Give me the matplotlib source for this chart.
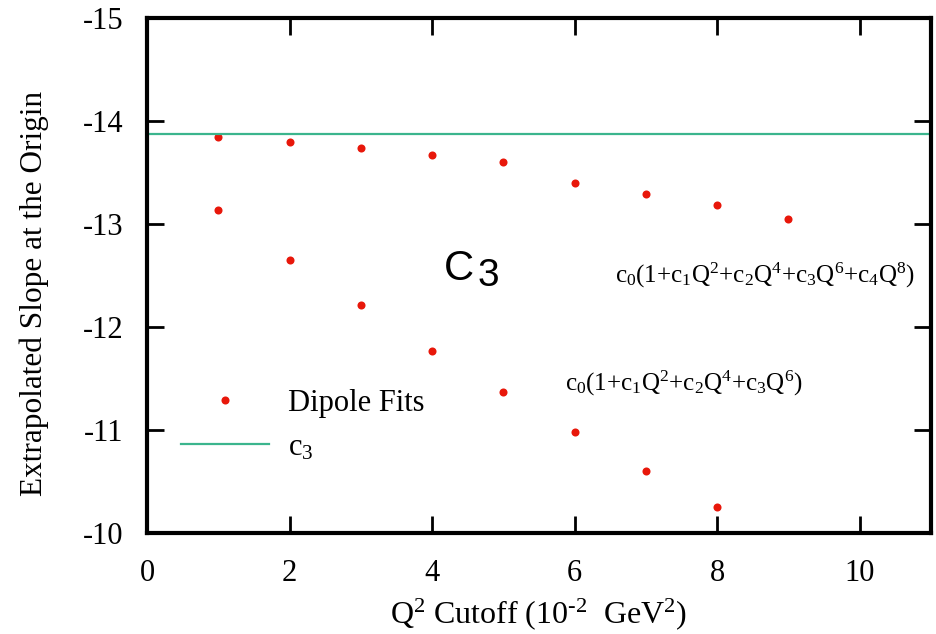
import matplotlib
matplotlib.use("Agg")
import matplotlib.pyplot as plt

plt.rcParams['font.family'] = ['Liberation Serif', 'DejaVu Serif']
plt.rcParams['mathtext.default'] = 'regular'
plt.rcParams['axes.unicode_minus'] = False

# data
q2_cut_upper = [1, 2, 3, 4, 5, 6, 7, 8, 9]
slope_upper = [-13.84, -13.80, -13.74, -13.67, -13.60, -13.40, -13.29, -13.18, -13.05]
q2_cut_lower = [1, 2, 3, 4, 5, 6, 7, 8]
slope_lower = [-13.14, -12.65, -12.21, -11.77, -11.37, -10.98, -10.60, -10.25]
c3_value = -13.87

x_ticks = [0, 2, 4, 6, 8, 10]
y_ticks = [-10, -11, -12, -13, -14, -15]

red = '#e8170a'
teal = '#3bb58d'

fig = plt.figure(figsize=(9.37, 6.34), dpi=100)
ax = fig.add_axes([147/937, 1-533/634, (931-147)/937, (533-18)/634])

ax.plot(q2_cut_upper, slope_upper, 'o', color=red, markersize=5.8, markeredgewidth=0,
        label='Dipole Fits')
ax.plot(q2_cut_lower, slope_lower, 'o', color=red, markersize=5.8, markeredgewidth=0)
ax.axhline(c3_value, color=teal, lw=1.6, label='c$_3$')

ax.set_xlim(0, 11)
ax.set_ylim(-10, -15)
ax.set_xticks(x_ticks)
ax.set_yticks(y_ticks)
ax.set_yticklabels([str(v) for v in y_ticks])
ax.tick_params(direction='in', length=12, width=2, top=True, right=True,
               labelsize=22)
ax.tick_params(axis='x', pad=19)
ax.tick_params(axis='y', pad=17)
for s in ax.spines.values():
    s.set_linewidth(3)

ax.set_xlabel('Q$^2$ Cutoff (10$^{\u2010 2}$  GeV$^2$)', fontsize=23)
ax.set_ylabel('Extrapolated Slope at the Origin', fontsize=22.5)
ax.xaxis.set_label_coords(0.5, (533-623)/515, transform=ax.transAxes)
ax.xaxis.label.set_va('baseline')
ax.yaxis.set_label_coords((34-147)/784, (533-293)/515)
ax.yaxis.label.set_va('center')

# annotations
ax.text(4.17, -12.56, 'C', fontsize=30, family='Liberation Sans', ha='left', va='center')
ax.text(4.64, -12.5, '3', fontsize=28, family='Liberation Sans', ha='left', va='center')
ax.text(6.56, -12.5, 'c$_0$(1+c$_1$Q$^2$+c$_2$Q$^4$+c$_3$Q$^6$+c$_4$Q$^8$)',
        fontsize=18, ha='left', va='center')
ax.text(5.86, -11.45, 'c$_0$(1+c$_1$Q$^2$+c$_2$Q$^4$+c$_3$Q$^6$)',
        fontsize=18, ha='left', va='center')

leg = ax.legend(loc='center left', bbox_to_anchor=((181-147)/784, (533-425.5)/515),
                frameon=False, fontsize=22, handlelength=2.88, handletextpad=0.62,
                labelspacing=0.5, borderaxespad=0, borderpad=0)

fig.savefig('out.png', dpi=100)
